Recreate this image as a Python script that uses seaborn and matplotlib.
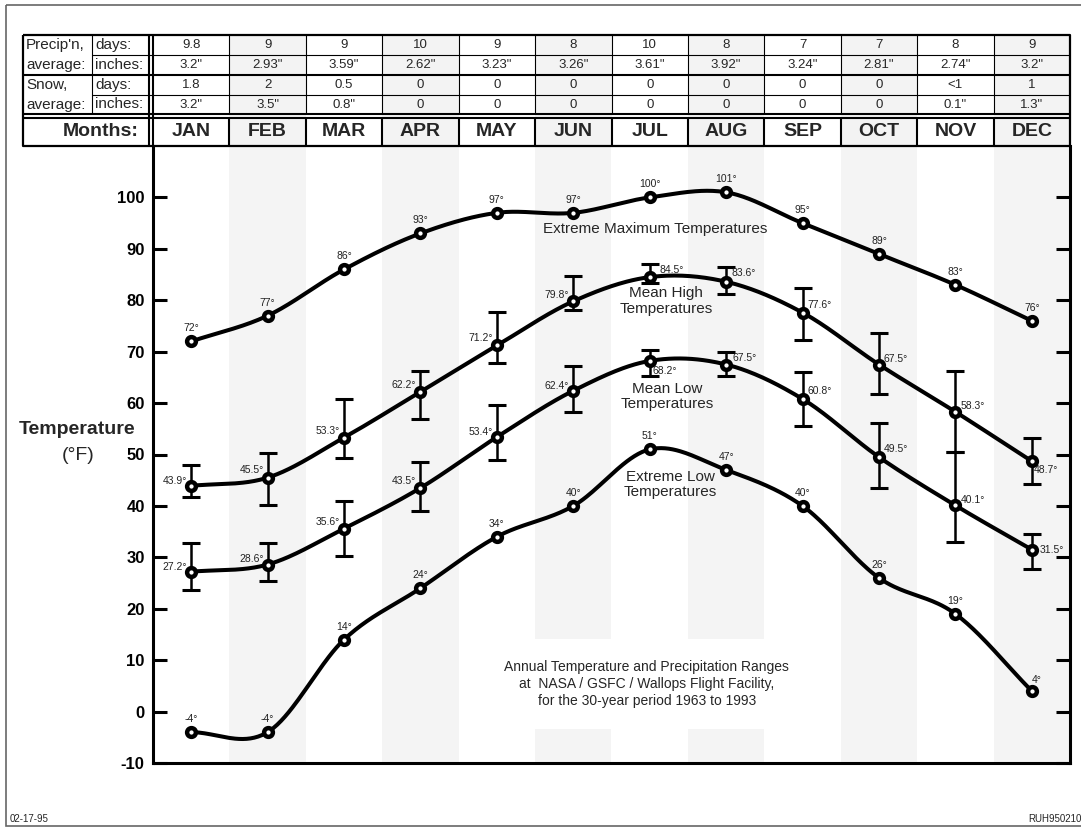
import numpy as np
import pandas as pd
import seaborn as sns
import matplotlib.pyplot as plt
from matplotlib.patches import Rectangle

W, H = 1081, 827

months = ['JAN', 'FEB', 'MAR', 'APR', 'MAY', 'JUN', 'JUL', 'AUG', 'SEP', 'OCT', 'NOV', 'DEC']

# table values
precip_days = ['9.8', '9', '9', '10', '9', '8', '10', '8', '7', '7', '8', '9']
precip_inches = ['3.2"', '2.93"', '3.59"', '2.62"', '3.23"', '3.26"', '3.61"', '3.92"',
                 '3.24"', '2.81"', '2.74"', '3.2"']
snow_days = ['1.8', '2', '0.5', '0', '0', '0', '0', '0', '0', '0', '<1', '1']
snow_inches = ['3.2"', '3.5"', '0.8"', '0', '0', '0', '0', '0', '0', '0', '0.1"', '1.3"']

# temperatures (F)
ext_max = [72, 77, 86, 93, 97, 97, 100, 101, 95, 89, 83, 76]
mean_high = [43.9, 45.5, 53.3, 62.2, 71.2, 79.8, 84.5, 83.6, 77.6, 67.5, 58.3, 48.7]
mean_high_top = [48.0, 50.2, 60.8, 66.3, 77.7, 84.7, 87.1, 86.4, 82.4, 73.7, 66.2, 53.2]
mean_high_bot = [41.8, 40.2, 49.4, 57.0, 67.8, 78.2, 83.4, 81.3, 72.2, 61.8, 50.4, 44.3]
mean_low = [27.2, 28.6, 35.6, 43.5, 53.4, 62.4, 68.2, 67.5, 60.8, 49.5, 40.1, 31.5]
mean_low_top = [32.7, 32.7, 41.0, 48.6, 59.6, 67.3, 70.4, 70.0, 66.0, 56.1, 50.4, 34.6]
mean_low_bot = [23.6, 25.4, 30.2, 39.0, 48.9, 58.3, 65.3, 65.2, 55.6, 43.4, 33.0, 27.8]
ext_low = [-4, -4, 14, 24, 34, 40, 51, 47, 40, 26, 19, 4]

# label placement (dx, dy in pixels, alignment)
above = [(0, 13, 'center')] * 12
hi_pos = [(-4, 5, 'right'), (-4, 8, 'right'), (-4, 7, 'right'), (-4, 7, 'right'),
          (-4, 7, 'right'), (-4, 6, 'right'), (10, 7, 'left'), (5, 9, 'left'),
          (5, 8, 'left'), (5, 6, 'left'), (5, 6, 'left'), (2, -9, 'left')]
lo_pos = [(-4, 5, 'right'), (-4, 6, 'right'), (-4, 7, 'right'), (-4, 7, 'right'),
          (-4, 5, 'right'), (-4, 5, 'right'), (3, -10, 'left'), (6, 7, 'left'),
          (5, 8, 'left'), (5, 8, 'left'), (5, 5, 'left'), (8, 0, 'left')]
elo_pos = above[:11] + [(5, 11, 'center')]


def smooth(xv, yv, n=40):
    # cubic hermite (catmull-rom) path through the points
    xv = np.asarray(xv, float)
    yv = np.asarray(yv, float)
    m = np.gradient(yv, xv)
    xs, ys = [], []
    for i in range(len(xv) - 1):
        t = np.linspace(0, 1, n, endpoint=(i == len(xv) - 2))
        h00 = 2 * t**3 - 3 * t**2 + 1
        h10 = t**3 - 2 * t**2 + t
        h01 = -2 * t**3 + 3 * t**2
        h11 = t**3 - t**2
        d = xv[i + 1] - xv[i]
        xs.append(xv[i] + t * d)
        ys.append(h00 * yv[i] + h10 * d * m[i] + h01 * yv[i + 1] + h11 * d * m[i + 1])
    return np.concatenate(xs), np.concatenate(ys)


sns.set_style("white")
plt.rcParams['font.family'] = ['Liberation Sans', 'DejaVu Sans']
plt.rcParams['axes.unicode_minus'] = False

fig = plt.figure(figsize=(W / 100, H / 100), dpi=100)
ax = fig.add_axes([153 / W, 64 / H, 917 / W, 617 / H])
x = np.arange(12)

# alternating month shading
for i in range(1, 12, 2):
    ax.axvspan(i - 0.5, i + 0.5, color='#f4f4f4', lw=0, zorder=0)

series = [(ext_max, above), (mean_high, hi_pos), (mean_low, lo_pos), (ext_low, elo_pos)]
for vals, pos in series:
    xs, ys = smooth(x, vals)
    df = pd.DataFrame({'m': xs, 't': ys})
    sns.lineplot(data=df, x='m', y='t', ax=ax, color='black', lw=2.9,
                 sort=False, estimator=None, zorder=3)

for vals, top, bot in [(mean_high, mean_high_top, mean_high_bot),
                       (mean_low, mean_low_top, mean_low_bot)]:
    v = np.array(vals)
    ax.errorbar(x, v, yerr=[v - np.array(bot), np.array(top) - v], fmt='none',
                ecolor='black', elinewidth=1.8, capsize=6.8, capthick=2.2, zorder=3.5)

for vals, pos in series:
    sns.scatterplot(x=x, y=vals, ax=ax, s=40, color='white', edgecolor='black',
                    linewidth=3.2, zorder=5, legend=False)
    for i, v in enumerate(vals):
        dx, dy, ha = pos[i]
        ax.annotate(f"{v:g}°", (x[i], v), xytext=(dx, dy), textcoords='offset pixels',
                    ha=ha, va='center', fontsize=7.5, color='#222222', zorder=4)

ax.text(6.07, 93.8, "Extreme Maximum Temperatures", ha='center', va='center', fontsize=11)
ax.text(6.21, 79.85, "Mean High\nTemperatures", ha='center', va='center', fontsize=11,
        linespacing=1.1)
ax.text(6.23, 61.3, "Mean Low\nTemperatures", ha='center', va='center', fontsize=11,
        linespacing=1.1)
ax.text(6.27, 44.1, "Extreme Low\nTemperatures", ha='center', va='center', fontsize=11,
        linespacing=1.1)
ax.text(5.96, 5.4, "Annual Temperature and Precipitation Ranges\n"
        "at  NASA / GSFC / Wallops Flight Facility,\nfor the 30-year period 1963 to 1993",
        ha='center', va='center', fontsize=10, linespacing=1.3, zorder=2,
        bbox=dict(facecolor='white', edgecolor='none', boxstyle='square,pad=1.5'))

ax.set_xlim(-0.5, 11.5)
ax.set_ylim(-10, 110)
ax.set_xticks([])
ax.set_yticks(range(-10, 101, 10))
ax.set_xlabel('')
ax.set_ylabel('')
ax.tick_params(axis='y', direction='in', length=10, width=2.2, left=True, right=True,
               labelsize=12, pad=6, colors='black')
for lbl in ax.get_yticklabels():
    lbl.set_fontweight('bold')
ax.spines['top'].set_visible(False)
for s in ['left', 'bottom', 'right']:
    ax.spines[s].set_linewidth(2.2)
    ax.spines[s].set_color('black')

# overlay canvas in pixel units for table, border and captions
cv = fig.add_axes([0, 0, 1, 1], zorder=10)
cv.set_xlim(0, W)
cv.set_ylim(H, 0)
cv.axis('off')

cv.add_patch(Rectangle((6, 5), 1200, 821, fill=False, edgecolor='#666666', lw=1.2))

tx0, tx1 = 23, 1070
col0, colw = 153, 917 / 12
for i in range(1, 12, 2):
    cv.add_patch(Rectangle((col0 + i * colw, 35), colw, 111, color='#f3f3f3', lw=0))

line = dict(color='black', solid_capstyle='butt')
cv.plot([tx0, tx1, tx1, tx0, tx0], [35, 35, 146, 146, 35], lw=1.6, **line)
cv.plot([92, tx1], [55, 55], lw=0.8, **line)
cv.plot([92, tx1], [95, 95], lw=0.8, **line)
cv.plot([tx0, tx1], [75, 75], lw=1.5, **line)
cv.plot([tx0, tx1], [114, 114], lw=1.5, **line)
cv.plot([tx0, tx1], [117.5, 117.5], lw=1.5, **line)
cv.plot([92, 92], [35, 114], lw=0.8, **line)
cv.plot([148.5, 148.5], [35, 146], lw=1.5, **line)
cv.plot([153, 153], [35, 146], lw=1.5, **line)
for k in range(1, 12):
    xx = col0 + k * colw
    cv.plot([xx, xx], [35, 114], lw=0.8, **line)
    cv.plot([xx, xx], [117.5, 146], lw=1.5, **line)

row_c = [45, 65, 85, 104.5]
for r, vals in enumerate([precip_days, precip_inches, snow_days, snow_inches]):
    for i, v in enumerate(vals):
        cv.text(col0 + (i + 0.5) * colw, row_c[r], v, ha='center', va='center', fontsize=9.5)
for i, mth in enumerate(months):
    cv.text(col0 + (i + 0.5) * colw, 132, mth, ha='center', va='center', fontsize=14,
            fontweight='bold')

heads = [("Precip'n,", "days:"), ("average:", "inches:"), ("Snow,", "days:"),
         ("average:", "inches:")]
for r, (a, b) in enumerate(heads):
    cv.text(26, row_c[r], a, ha='left', va='center', fontsize=11)
    cv.text(95, row_c[r], b, ha='left', va='center', fontsize=11)
cv.text(139, 132, "Months:", ha='right', va='center', fontsize=14, fontweight='bold')

cv.text(77, 429, "Temperature", ha='center', va='center', fontsize=14, fontweight='bold')
cv.text(78, 455, "(°F)", ha='center', va='center', fontsize=14)

cv.text(10, 819, "02-17-95", ha='left', va='center', fontsize=7)
cv.text(1028, 819, "RUH950210", ha='left', va='center', fontsize=7)

fig.savefig('out.png', dpi=100)
